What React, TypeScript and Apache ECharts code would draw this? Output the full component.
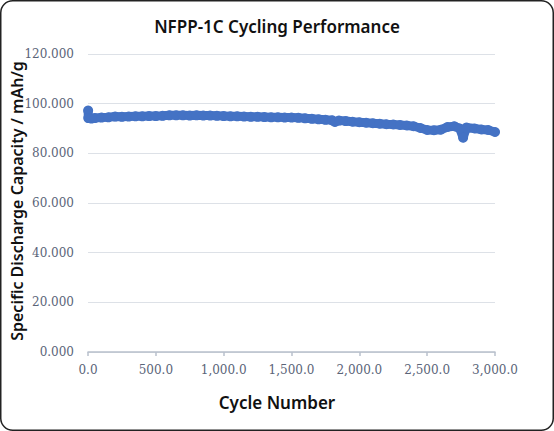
import React, { useEffect, useRef } from "react";
import * as echarts from "echarts";

const cycles = [
  1, 2, 25, 50, 100, 150, 200, 250, 300, 350, 400, 450, 500, 550, 600, 650, 700, 750, 800, 850, 900, 950,
  1000, 1050, 1100, 1150, 1200, 1250, 1300, 1350, 1400, 1450, 1500, 1550, 1600, 1650, 1700, 1750, 1800, 1820,
  1850, 1900, 1950, 2000, 2050, 2100, 2150, 2200, 2250, 2300, 2350, 2400, 2450, 2500, 2550, 2600, 2650, 2700,
  2740, 2765, 2790, 2850, 2900, 2950, 3000,
];
const capacity = [
  97.2, 94.2, 94.0, 94.2, 94.4, 94.5, 94.8, 94.7, 94.8, 94.9, 94.9, 95.0, 95.0, 95.1, 95.3, 95.3, 95.3, 95.2, 95.3, 95.2, 95.2, 95.1,
  95.0, 94.9, 94.9, 94.8, 94.7, 94.7, 94.6, 94.5, 94.5, 94.4, 94.4, 94.3, 94.1, 93.9, 93.7, 93.5, 93.3, 92.6,
  93.2, 93.0, 92.7, 92.5, 92.3, 92.1, 91.9, 91.7, 91.6, 91.4, 91.2, 90.9, 90.2, 89.4, 89.3, 89.5, 90.6, 90.9,
  90.0, 86.3, 90.4, 90.0, 89.6, 89.4, 88.6,
];

const titleText = "NFPP-1C Cycling Performance";
const xTitle = "Cycle Number";
const yTitle = "Specific Discharge Capacity / mAh/g";

export default function App() {
  const ref = useRef<HTMLDivElement>(null);
  useEffect(() => {
    document.body.style.margin = "0";
    const chart = echarts.init(ref.current!, null, { renderer: "svg" });
    const data = cycles.map((c, i) => [c, capacity[i]]);
    chart.setOption({
      animation: false,
      backgroundColor: "#ffffff",
      title: {
        text: titleText,
        left: "center",
        top: 13,
        textStyle: { fontFamily: "Noto Sans", fontWeight: 600, fontSize: 17, color: "#111" },
      },
      grid: { left: 88, right: 59, top: 54, bottom: 79 },
      xAxis: {
        type: "value",
        min: 0,
        max: 3000,
        interval: 500,
        axisLine: { show: true, lineStyle: { color: "#b8c0cc", width: 1.5 } },
        axisTick: { show: true, length: 4, lineStyle: { color: "#b8c0cc", width: 1.5 } },
        splitLine: { show: false },
        axisLabel: {
          margin: 12,
          fontFamily: "DejaVu Serif",
          fontSize: 12,
          color: "#5a6478",
          formatter: (v: number) =>
            v.toLocaleString("en-US", { minimumFractionDigits: 1, maximumFractionDigits: 1 }),
        },
      },
      yAxis: {
        type: "value",
        min: 0,
        max: 120,
        interval: 20,
        axisLine: { show: false },
        axisTick: { show: false },
        splitLine: { show: true, lineStyle: { color: "#dde1e7", width: 1 } },
        axisLabel: {
          margin: 14,
          fontFamily: "DejaVu Serif",
          fontSize: 12,
          color: "#5a6478",
          formatter: (v: number) => v.toFixed(3),
        },
      },
      series: [
        {
          type: "line",
          data,
          symbol: "circle",
          symbolSize: 10,
          showSymbol: true,
          itemStyle: { color: "#4472c4" },
          lineStyle: { color: "#4472c4", width: 9, cap: "round", join: "round" },
        },
      ],
      graphic: [
        {
          type: "rect",
          shape: { x: 0.75, y: 0.75, width: 552.5, height: 429.5, r: 12 },
          style: { fill: "none", stroke: "#222", lineWidth: 1.5 },
          silent: true,
        },
        {
          type: "text",
          x: 277,
          y: 402,
          style: {
            text: xTitle,
            fontFamily: "Noto Sans",
            fontWeight: 600,
            fontSize: 17,
            fill: "#111",
            align: "center",
            verticalAlign: "middle",
          },
        },
        {
          type: "text",
          x: 17,
          y: 201,
          rotation: Math.PI / 2,
          style: {
            text: yTitle,
            fontFamily: "Noto Sans",
            fontWeight: 600,
            fontSize: 16,
            fill: "#111",
            align: "center",
            verticalAlign: "middle",
          },
        },
      ],
    });
    return () => chart.dispose();
  }, []);
  return <div ref={ref} style={{ width: 554, height: 431 }} />;
}
